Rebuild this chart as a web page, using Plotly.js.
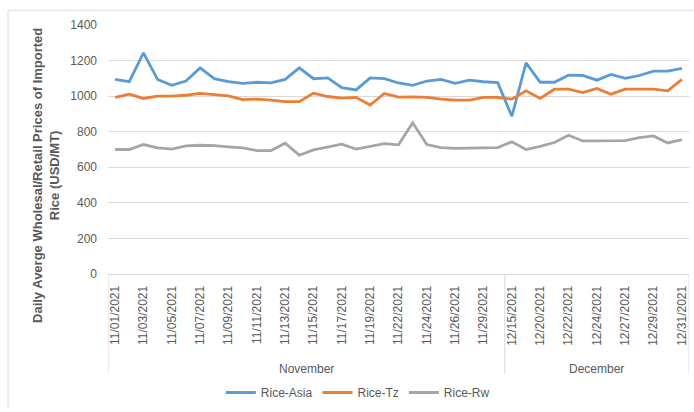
<!DOCTYPE html>
<html>
<head>
<meta charset="utf-8">
<script src="https://cdn.plot.ly/plotly-3.0.1.min.js"></script>
<style>html,body{margin:0;padding:0;background:#fff;}#chart{width:694px;height:412px;}</style>
</head>
<body>
<div id="chart"></div>
<script>
const dates = [
  "11/01/2021","11/02/2021","11/03/2021","11/04/2021","11/05/2021","11/06/2021","11/07/2021",
  "11/08/2021","11/09/2021","11/10/2021","11/11/2021","11/12/2021","11/13/2021","11/14/2021",
  "11/15/2021","11/16/2021","11/17/2021","11/18/2021","11/19/2021","11/20/2021","11/22/2021",
  "11/23/2021","11/24/2021","11/25/2021","11/26/2021","11/27/2021","11/29/2021","11/30/2021",
  "12/15/2021","12/17/2021","12/20/2021","12/21/2021","12/22/2021","12/23/2021","12/24/2021",
  "12/26/2021","12/27/2021","12/28/2021","12/29/2021","12/30/2021","12/31/2021"
];
const months = ["November", "December"];
const monthCounts = [28, 13];

const riceAsia = [1094,1081,1243,1094,1061,1085,1159,1098,1081,1072,1078,1075,1094,1159,
  1098,1103,1048,1035,1103,1098,1074,1061,1085,1094,1072,1090,1081,1076,
  887,1187,1078,1078,1118,1116,1090,1122,1100,1116,1141,1141,1156];
const riceTz = [993,1011,987,1000,1000,1005,1015,1007,1002,980,983,978,969,969,
  1017,998,989,993,950,1015,995,996,993,983,978,978,993,993,
  983,1030,987,1039,1039,1020,1043,1011,1039,1039,1039,1030,1094];
const riceRw = [700,700,728,709,702,720,724,722,715,709,694,694,735,668,
  698,715,730,702,718,733,726,850,728,711,706,709,709,711,
  743,700,718,739,780,748,748,748,750,767,776,737,756];

const seriesNames = ["Rice-Asia", "Rice-Tz", "Rice-Rw"];
const seriesValues = [riceAsia, riceTz, riceRw];
const seriesColors = ["#5B9BD5", "#ED7D31", "#A5A5A5"];

const traces = seriesNames.map((n, k) => ({
  type: "scatter", mode: "lines", name: n,
  x: dates, y: seriesValues[k],
  line: {color: seriesColors[k], width: 2.8}
}));

const tickDates = dates.filter((d, i) => i % 2 === 0);

const annotations = [];
const shapes = [];
let start = 0;
shapes.push({type: "line", xref: "x", yref: "paper", x0: -0.5, x1: -0.5, y0: 0, y1: -0.40,
  line: {color: "#d9d9d9", width: 1}});
months.forEach((m, k) => {
  const end = start + monthCounts[k];
  annotations.push({text: m, xref: "x", yref: "paper", x: (start + end - 1) / 2, y: -0.38,
    showarrow: false, xanchor: "center", yanchor: "middle",
    font: {family: "Liberation Sans, Arial, sans-serif", size: 12, color: "#595959"}});
  shapes.push({type: "line", xref: "x", yref: "paper", x0: end - 0.5, x1: end - 0.5, y0: 0, y1: -0.40,
    line: {color: "#d9d9d9", width: 1}});
  start = end;
});
shapes.push({type: "line", xref: "paper", yref: "paper", x0: -0.172, x1: 1.01, y0: 1.0595, y1: 1.0595,
  line: {color: "#d9d9d9", width: 1}});
shapes.push({type: "line", xref: "paper", yref: "paper", x0: -0.172, x1: -0.172, y0: 1.0595, y1: -0.54,
  line: {color: "#d9d9d9", width: 1}});

annotations.push({
  text: "<b>Daily Averge Wholesal/Retail Prices of Imported<br>Rice (USD/MT)</b>",
  xref: "paper", yref: "paper", x: -0.107, y: 0.397, textangle: -90, showarrow: false,
  xanchor: "center", yanchor: "middle",
  font: {family: "Liberation Sans, Arial, sans-serif", size: 13, color: "#595959"}
});

const layout = {
  width: 694, height: 412,
  margin: {l: 108, r: 5, t: 25, b: 135},
  paper_bgcolor: "#fff", plot_bgcolor: "#fff",
  font: {family: "Liberation Sans, Arial, sans-serif", size: 12, color: "#595959"},
  showlegend: true,
  legend: {orientation: "h", x: 0.43, y: -0.476, xanchor: "center", yanchor: "middle",
    itemwidth: 30, font: {size: 12, color: "#595959"}},
  xaxis: {
    type: "category", range: [-0.5, dates.length - 0.5],
    tickmode: "array", tickvals: tickDates, ticktext: tickDates,
    tickangle: -90, showgrid: false, showline: true, linecolor: "#d9d9d9", linewidth: 1,
    ticks: "", ticklabelstandoff: 6, zeroline: false,
    tickfont: {size: 12, color: "#595959"}
  },
  yaxis: {
    range: [0, 1400], dtick: 200, showgrid: true, gridcolor: "#d9d9d9", gridwidth: 1,
    showline: false, zeroline: false, ticks: "", ticklabelstandoff: 10,
    tickfont: {size: 12, color: "#595959"}
  },
  annotations: annotations,
  shapes: shapes
};

Plotly.newPlot("chart", traces, layout, {displayModeBar: false, staticPlot: true});
</script>
</body>
</html>
